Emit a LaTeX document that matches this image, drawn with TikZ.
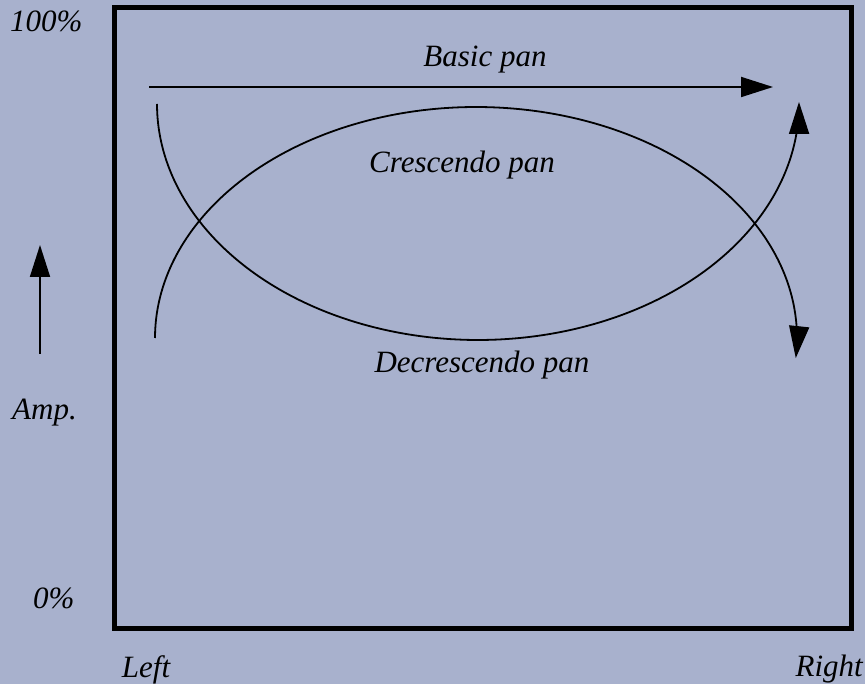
\documentclass[tikz,border=0pt]{standalone}
\usepackage{fontspec}
\setmainfont{Liberation Serif}
\usetikzlibrary{arrows.meta}
\definecolor{bgblue}{RGB}{168,177,205}
\begin{document}
\begin{tikzpicture}[x=1pt,y=-1pt,
  lbl/.style={font=\fontsize{31}{36}\selectfont\itshape, inner sep=0pt},
  thin/.style={line width=1.8pt},
  tip/.style={-{Triangle[length=32pt,width=20pt]}}]
\fill[bgblue] (0,0) rectangle (865,684);
\useasboundingbox (0,0) rectangle (865,684);
% frame
\draw[line width=5pt] (114.5,7.5) rectangle (851,628);
% basic pan
\coordinate (bs) at (149,87);
\coordinate (be) at (773,87);
\draw[thin,tip] (bs) -- (be);
% crescendo (upper arc)
\draw[thin,tip] plot[domain=180:-5, samples=120, smooth] ({476+321*cos(\x)}, {338-231*sin(\x)});
% decrescendo (lower arc)
\draw[thin,tip] plot[domain=180:360.5, samples=120, smooth] ({478+321*cos(\x)}, {104-236*sin(\x)});
% amp arrow
\coordinate (as) at (40,354);
\coordinate (ae) at (40,245);
\draw[thin,tip] (as) -- (ae);
% labels
\node[lbl, anchor=base] (basic) at (485,67) {Basic pan};
\node[lbl, anchor=base] (cres) at (462,173) {Crescendo pan};
\node[lbl, anchor=base] (decres) at (482,373) {Decrescendo pan};
\node[lbl, anchor=base west] (top) at (10,32) {100\%};
\node[lbl, anchor=base west] (zero) at (33,608) {0\%};
\node[lbl, anchor=base west] (amp) at (12,420) {Amp.};
\node[lbl, anchor=base] (left) at (146,677) {Left};
\node[lbl, anchor=base east] (right) at (863,676) {Right};
\end{tikzpicture}
\end{document}
